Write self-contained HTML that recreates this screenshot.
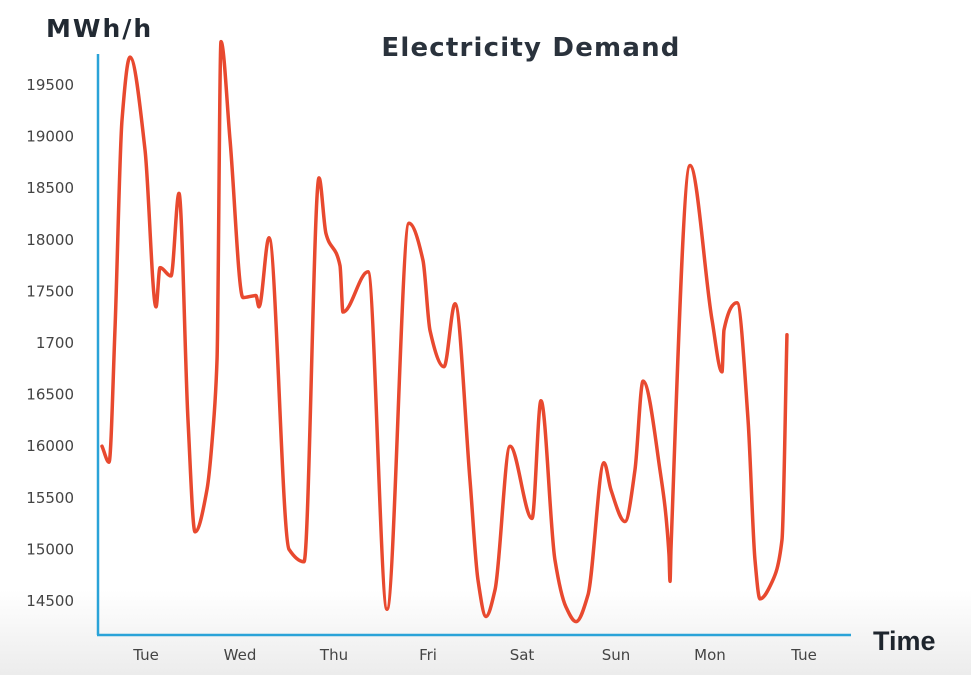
<!DOCTYPE html>
<html><head><meta charset="utf-8"><style>
html,body{margin:0;padding:0;}
body{width:971px;height:675px;overflow:hidden;background:linear-gradient(to bottom,#fff 0,#fff 590px,#ececec 675px);font-family:"DejaVu Sans","Liberation Sans",sans-serif;}
svg{position:absolute;left:0;top:0;}
</style></head><body>
<svg width="971" height="675">
<text x="46" y="37" font-size="25" font-weight="bold" fill="#222a33" letter-spacing="2">MWh/h</text>
<text x="531" y="56" font-size="26" font-weight="bold" fill="#2a323c" text-anchor="middle" letter-spacing="1.2">Electricity Demand</text>
<text x="873" y="650" font-size="27" font-weight="bold" fill="#1e252d" font-family="'Liberation Sans',sans-serif">Time</text>
<line x1="98" y1="54" x2="98" y2="635" stroke="#2aa3d8" stroke-width="2.5"/>
<line x1="97" y1="635" x2="851" y2="635" stroke="#2aa3d8" stroke-width="2.5"/>
<g id="yt"></g><g id="xt"></g>
<path id="line" fill="none" stroke="#e8492f" stroke-width="3.5" stroke-linejoin="round" stroke-linecap="round"/>
</svg>
<script>
const yTicks=[19500,19000,18500,18000,17500,17000,16500,16000,15500,15000,14500];
const yTickLabels=["19500","19000","18500","18000","17500","1700","16500","16000","15500","15000","14500"];
const xTickLabels=["Tue","Wed","Thu","Fri","Sat","Sun","Mon","Tue"];
const times=[-0.447,-0.372,-0.309,-0.234,-0.149,0.011,0.128,0.170,0.287,0.372,0.468,0.543,0.670,0.734,0.777,0.819,0.915,1.053,1.191,1.223,1.330,1.543,1.702,1.862,1.936,2.085,2.117,2.383,2.585,2.819,2.968,3.043,3.191,3.309,3.468,3.553,3.638,3.734,3.894,4.128,4.223,4.372,4.489,4.596,4.723,4.894,4.968,5.117,5.223,5.309,5.489,5.585,5.596,5.606,5.809,6.043,6.149,6.170,6.309,6.426,6.5,6.553,6.681,6.787,6.840];
const demand=[16000,15845,17126,19160,19770,18870,17350,17730,17650,18450,16254,15170,15580,16157,16840,19920,18970,17440,17460,17350,18020,15000,14880,18600,18060,17750,17300,17690,14420,18160,17800,17120,16770,17380,15672,14704,14350,14607,16000,15300,16440,14897,14442,14300,14558,15840,15576,15270,15769,16630,15769,14950,14690,15000,18720,17223,16720,17126,17390,16254,14897,14520,14684,15091,17080];
const X=d=>144+d*94;
const Y=v=>85+(19500-v)*0.1032;
const NS="http://www.w3.org/2000/svg";
const yt=document.getElementById('yt'),xt=document.getElementById('xt');
yTicks.forEach((v,i)=>{const t=document.createElementNS(NS,'text');
t.setAttribute('x',74);t.setAttribute('y',Y(v)+5);t.setAttribute('text-anchor','end');
t.setAttribute('font-size','15');t.setAttribute('fill','#444');t.textContent=yTickLabels[i];


yt.appendChild(t);});
xTickLabels.forEach((s,i)=>{const t=document.createElementNS(NS,'text');
t.setAttribute('x',X(i)+2);t.setAttribute('y',660);t.setAttribute('text-anchor','middle');
t.setAttribute('font-size','15');t.setAttribute('fill','#444');t.textContent=s;


xt.appendChild(t);});
// monotone cubic interpolation (Fritsch-Carlson)
const P=times.map((d,i)=>[X(d),Y(demand[i])]);
const n=P.length,sl=[],m=[];
for(let i=0;i<n-1;i++)sl.push((P[i+1][1]-P[i][1])/(P[i+1][0]-P[i][0]));
m[0]=sl[0];m[n-1]=sl[n-2];
for(let i=1;i<n-1;i++){const a=sl[i-1],b=sl[i];
if(a*b<=0)m[i]=0;else{const h0=P[i][0]-P[i-1][0],h1=P[i+1][0]-P[i][0];
m[i]=3*(h0+h1)/((2*h1+h0)/a+(h1+2*h0)/b);}}
let dstr=`M${P[0][0]},${P[0][1]}`;
for(let i=0;i<n-1;i++){const h=(P[i+1][0]-P[i][0])/3;
dstr+=` C${P[i][0]+h},${P[i][1]+m[i]*h} ${P[i+1][0]-h},${P[i+1][1]-m[i+1]*h} ${P[i+1][0]},${P[i+1][1]}`;}
document.getElementById('line').setAttribute('d',dstr);
</script>
</body></html>
